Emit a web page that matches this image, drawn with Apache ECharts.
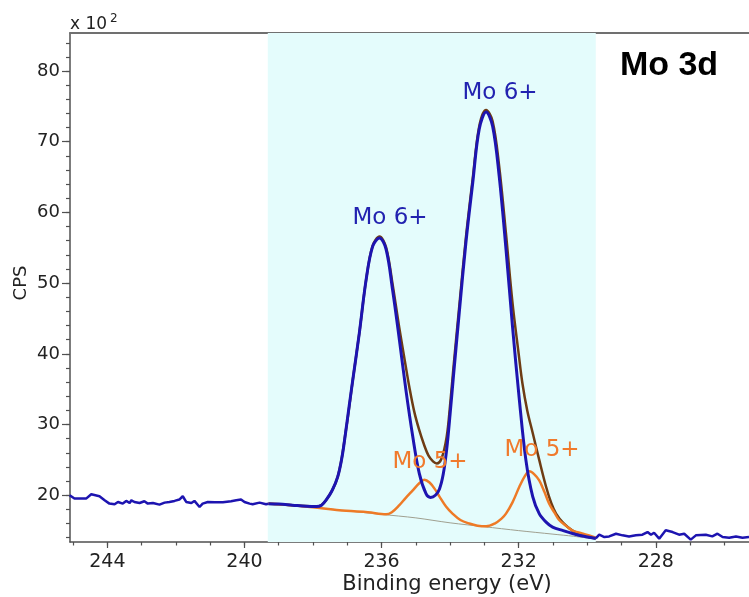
<!DOCTYPE html>
<html><head><meta charset="utf-8">
<script src="https://cdn.jsdelivr.net/npm/echarts@6/dist/echarts.min.js"></script>
<style>html,body{margin:0;padding:0;background:#fff}#c{width:749px;height:597px}</style>
</head><body><div id="c"></div>
<script>
// ---- data (binding energy eV, CPS x100) ----
const rawLeft = [[245.10,20.0],[244.96,19.53],[244.62,19.53],[244.47,20.14],[244.23,19.86],[244.08,19.29],[243.94,18.82],[243.79,18.72],[243.69,19.05],[243.55,18.82],[243.45,19.2],[243.35,18.9],[243.30,19.29],[243.21,19.05],[243.06,18.9],[242.92,19.15],[242.82,18.82],[242.67,18.9],[242.48,18.68],[242.33,18.96],[242.19,19.05],[242.04,19.2],[241.90,19.39],[241.80,19.86],[241.70,19.05],[241.55,18.9],[241.46,19.2],[241.31,18.34],[241.22,18.82],[241.07,19.05],[240.87,19.0],[240.63,19.0],[240.39,19.15],[240.24,19.29],[240.10,19.39],[240.0,19.05],[239.85,18.82],[239.76,18.72],[239.56,18.96],[239.37,18.72],[239.30,18.8]];
const rawRight = [[229.75,13.9],[229.65,14.42],[229.50,14.09],[229.36,14.18],[229.16,14.56],[228.97,14.33],[228.78,14.18],[228.58,14.33],[228.39,14.42],[228.24,14.8],[228.14,14.42],[228.05,14.7],[227.90,13.86],[227.71,15.04],[227.51,14.8],[227.32,14.42],[227.17,14.56],[226.98,13.72],[226.83,14.33],[226.54,14.42],[226.35,14.18],[226.20,14.56],[226.05,14.09],[225.86,14.0],[225.66,14.18],[225.47,14.0],[225.28,14.09]];
const mo6Fit = [[239.30,18.8],[239.0,18.75],[238.6,18.6],[238.2,18.45],[237.9,18.4],[237.75,18.6],[237.62,19.3],[237.45,20.6],[237.28,22.6],[237.15,25.5],[237.04,29.2],[236.94,32.8],[236.84,36.3],[236.65,42.9],[236.45,50.5],[236.26,55.2],[236.06,56.4],[235.87,54.8],[235.68,49.1],[235.48,42.0],[235.29,34.9],[235.09,28.3],[234.90,23.1],[234.70,20.2],[234.57,19.7],[234.43,20.0],[234.31,20.9],[234.20,23.0],[234.10,26.5],[234.0,31.5],[233.90,37.0],[233.73,46.0],[233.54,55.7],[233.34,64.2],[233.15,71.8],[232.95,74.2],[232.76,72.2],[232.57,65.2],[232.37,54.8],[232.18,43.9],[231.98,33.5],[231.79,25.0],[231.59,19.8],[231.40,17.4],[231.20,16.2],[231.01,15.5],[230.70,15.0],[230.43,14.6],[230.10,14.2],[229.75,13.9]];
const mo5Fit = [[239.30,18.85],[238.59,18.6],[238.01,18.3],[237.03,17.8],[236.4,17.6],[235.87,17.3],[235.70,17.6],[235.48,18.6],[235.30,19.6],[235.09,20.7],[234.90,21.7],[234.75,22.2],[234.60,21.8],[234.45,20.9],[234.31,19.8],[234.12,18.4],[233.93,17.4],[233.70,16.5],[233.44,16.0],[233.20,15.7],[232.95,15.6],[232.70,16.0],[232.50,16.7],[232.37,17.4],[232.18,19.0],[231.98,21.2],[231.82,22.7],[231.69,23.4],[231.55,23.0],[231.40,22.1],[231.25,20.5],[231.11,18.8],[230.95,17.5],[230.82,16.5],[230.60,15.6],[230.43,15.0],[230.15,14.6],[229.94,14.3],[229.75,14.0]];
const envelope = [[239.30,18.8],[238.6,18.6],[237.9,18.4],[237.62,19.3],[237.28,22.6],[237.04,29.2],[236.84,36.3],[236.65,42.9],[236.45,50.5],[236.26,55.3],[236.06,56.6],[235.87,55.1],[235.68,49.9],[235.48,43.6],[235.30,38.4],[235.19,35.3],[235.05,31.9],[234.90,29.2],[234.75,27.0],[234.63,25.6],[234.50,24.8],[234.39,24.5],[234.25,25.2],[234.10,28.3],[234.0,32.8],[233.90,38.2],[233.73,46.9],[233.54,56.4],[233.34,64.8],[233.15,72.2],[232.95,74.5],[232.76,72.9],[232.57,66.6],[232.37,57.0],[232.18,47.2],[232.0,40.0],[231.89,35.8],[231.75,32.0],[231.59,28.8],[231.40,25.0],[231.20,21.2],[231.05,18.9],[230.91,17.4],[230.70,16.1],[230.43,15.0],[230.10,14.3],[229.75,13.9]];
const background = [[239.30,18.85],[238.0,18.3],[237.0,17.8],[236.0,17.3],[235.0,16.8],[234.0,16.1],[233.0,15.55],[232.0,15.0],[231.0,14.5],[230.4,14.2],[229.75,13.8]];
const fitRegion = [239.32, 229.75];
const xMajorTicks = [228, 232, 236, 240, 244];
const xMinorTicks = [226,227,228,229,230,231,232,233,234,235,236,237,238,239,240,241,242,243,244,245];
const yMajorTicks = [20, 30, 40, 50, 60, 70, 80];
const yMinorTicks = [14,16,18,20,22,24,26,28,30,32,34,36,38,40,42,44,46,48,50,52,54,56,58,60,62,64,66,68,70,72,74,76,78,80,82,84];
const peakLabels = [
  {text:'Mo 6+', x:500, y:93, color:'#2222b0'},
  {text:'Mo 6+', x:390, y:218, color:'#2222b0'},
  {text:'Mo 5+', x:430, y:462, color:'#f07a2c'},
  {text:'Mo 5+', x:542, y:450, color:'#f07a2c'}
];

// ---- chart ----
const X_MIN = 225.28, X_MAX = 245.09, Y_MIN = 13.39, Y_MAX = 85.38;
const AX = '#505050';
const FONT = '"DejaVu Sans", sans-serif';
const chart = echarts.init(document.getElementById('c'), null, {renderer:'canvas'});
const baseX = {type:'value', min:X_MIN, max:X_MAX, inverse:true, gridIndex:0, splitLine:{show:false}};
const baseY = {type:'value', min:Y_MIN, max:Y_MAX, gridIndex:0, splitLine:{show:false}, position:'left'};
const line = (data, color, width, z, smooth) => ({
  type:'line', data, xAxisIndex:0, yAxisIndex:0, symbol:'none', showSymbol:false, z,
  smooth, lineStyle:{color, width}, emphasis:{disabled:true}, silent:true
});
chart.setOption({
  animation:false,
  backgroundColor:'#fff',
  grid:{left:70, right:0, top:33, bottom:55, containLabel:false},
  xAxis:[
    Object.assign({}, baseX, {position:'bottom',
      axisLine:{show:true, onZero:false, lineStyle:{color:AX, width:1.5}},
      axisTick:{show:true, customValues:xMajorTicks, length:6, lineStyle:{color:AX, width:1.2}},
      axisLabel:{show:true, customValues:xMajorTicks, color:'#222', fontFamily:FONT, fontSize:19, margin:11}}),
    Object.assign({}, baseX, {position:'bottom',
      axisLine:{show:false, onZero:false},
      axisTick:{show:true, customValues:xMinorTicks, length:3.5, lineStyle:{color:AX, width:1.2}},
      axisLabel:{show:false}}),
    Object.assign({}, baseX, {position:'top',
      axisLine:{show:true, onZero:false, lineStyle:{color:'#707070', width:2}},
      axisTick:{show:false}, axisLabel:{show:false}})
  ],
  yAxis:[
    Object.assign({}, baseY, {
      axisLine:{show:true, onZero:false, lineStyle:{color:AX, width:1.5}},
      axisTick:{show:true, customValues:yMajorTicks, length:8, lineStyle:{color:AX, width:1.2}},
      axisLabel:{show:true, customValues:yMajorTicks, color:'#222', fontFamily:FONT, fontSize:18, margin:10}}),
    Object.assign({}, baseY, {
      axisLine:{show:false, onZero:false},
      axisTick:{show:true, customValues:yMinorTicks, length:4, lineStyle:{color:AX, width:1.2}},
      axisLabel:{show:false}})
  ],
  series:[
    {type:'line', data:[], xAxisIndex:0, yAxisIndex:0, z:0, silent:true,
     markArea:{silent:true, itemStyle:{color:'#e4fcfc'}, data:[[{xAxis:fitRegion[0]},{xAxis:fitRegion[1]}]]}},
    line(background, '#a0a090', 1, 2, 0.3),
    line(envelope, '#6e3c14', 2.5, 3, 0.35),
    line(mo5Fit, '#ee7a26', 2.5, 4, 0.35),
    line(mo6Fit, '#1d14b0', 3, 5, 0.35),
    line(rawLeft, '#1d14b0', 2.5, 5, false),
    line(rawRight, '#1d14b0', 2.5, 5, false)
  ],
  graphic: peakLabels.map(l => ({type:'text', x:l.x, y:l.y, z:100, silent:true,
      style:{text:l.text, fill:l.color, fontFamily:FONT, fontSize:23, align:'center', verticalAlign:'middle'}}))
    .concat([
      {type:'text', x:669, y:66, z:100, silent:true, style:{text:'Mo 3d', fill:'#000', fontFamily:'"Liberation Sans", Arial, sans-serif', fontWeight:'bold', fontSize:34, align:'center', verticalAlign:'middle'}},
      {type:'text', x:447, y:585, z:100, silent:true, style:{text:'Binding energy (eV)', fill:'#222', fontFamily:FONT, fontSize:21, align:'center', verticalAlign:'middle'}},
      {type:'text', x:21, y:283, rotation:Math.PI/2, z:100, silent:true, style:{text:'CPS', fill:'#222', fontFamily:FONT, fontSize:18, align:'center', verticalAlign:'middle'}},
      {type:'text', x:70, y:25, z:100, silent:true, style:{text:'x 10', fill:'#222', fontFamily:FONT, fontSize:17, align:'left', verticalAlign:'middle'}},
      {type:'text', x:110, y:19, z:100, silent:true, style:{text:'2', fill:'#222', fontFamily:FONT, fontSize:12, align:'left', verticalAlign:'middle'}}
    ])
});
</script></body></html>
